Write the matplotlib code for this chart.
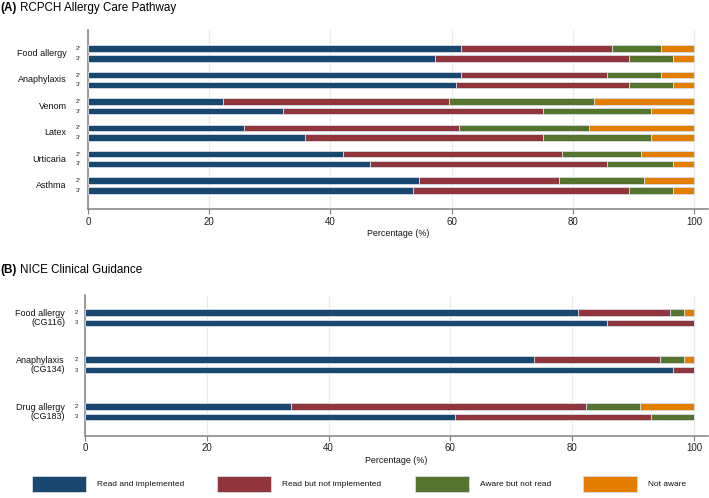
import numpy as np
import matplotlib
matplotlib.use("Agg")
import matplotlib.pyplot as plt
from matplotlib.patches import Rectangle

plt.rcParams['font.family'] = ['Liberation Sans', 'DejaVu Sans']

series = ["Read and implemented", "Read but not implemented", "Aware but not read", "Not aware"]
colors = ["#1a476f", "#90353b", "#55752f", "#e37e00"]

# Panel A: RCPCH Allergy Care Pathway (2° and 3° care)
cats_a = ["Food allergy", "Anaphylaxis", "Venom", "Latex", "Urticaria", "Asthma"]
a2_read_impl = [61.6, 61.6, 22.3, 25.7, 42.0, 54.6]
a2_read_not = [24.8, 24.0, 37.2, 35.5, 36.2, 23.1]
a2_aware = [8.1, 8.9, 24.0, 21.4, 13.0, 14.1]
a2_not_aware = [5.5, 5.5, 16.5, 17.4, 8.8, 8.2]
a3_read_impl = [57.2, 60.7, 32.2, 35.8, 46.5, 53.6]
a3_read_not = [32.1, 28.6, 42.8, 39.2, 39.2, 35.7]
a3_aware = [7.2, 7.2, 17.9, 17.9, 10.8, 7.2]
a3_not_aware = [3.5, 3.5, 7.1, 7.1, 3.5, 3.5]

# Panel B: NICE Clinical Guidance
cats_b = ["Food allergy\n(CG116)", "Anaphylaxis\n(CG134)", "Drug allergy\n(CG183)"]
b2_read_impl = [81.0, 73.8, 33.9]
b2_read_not = [15.0, 20.7, 48.3]
b2_aware = [2.4, 3.9, 9.0]
b2_not_aware = [1.6, 1.6, 8.8]
b3_read_impl = [85.7, 96.5, 60.7]
b3_read_not = [14.3, 3.5, 32.2]
b3_aware = [0.0, 0.0, 7.1]
b3_not_aware = [0.0, 0.0, 0.0]

xticks = [0, 20, 40, 60, 80, 100]

W, H = 709, 498
fig = plt.figure(figsize=(W / 100, H / 100), dpi=100)

def px_axes(left, top, right, bottom):
    return fig.add_axes([left / W, 1 - bottom / H, (right - left) / W, (bottom - top) / H])

def draw_panel(ax, cats, s2, s3, sub_labels, gap, within, height, pad_top, pad_bot, label_off):
    n = len(cats)
    centers = np.arange(n) * gap
    y2 = centers
    y3 = centers + within
    for ys, ser in ((y2, s2), (y3, s3)):
        left = np.zeros(n)
        for vals, c in zip(ser, colors):
            vals = np.array(vals)
            ax.barh(ys, vals, left=left, height=height, color=c,
                    edgecolor="#d5dde6", linewidth=0.6, zorder=3)
            left += vals
    ax.set_ylim(y3[-1] + pad_bot, y2[0] - pad_top)
    ax.set_xlim(0, 102.3)
    ax.set_xticks(xticks)
    ax.set_xticklabels([str(t) for t in xticks], fontsize=7, color="#222222")
    ax.tick_params(axis='x', length=3.5, width=0.8, color="#7f7f7f", pad=2)
    ax.set_yticks([])
    for sp in ("top", "right"):
        ax.spines[sp].set_visible(False)
    for sp in ("left", "bottom"):
        ax.spines[sp].set_color("#808080")
        ax.spines[sp].set_linewidth(1.1)
    ax.grid(axis='x', color="#ebebeb", linewidth=0.8, zorder=0)
    ax.set_axisbelow(True)
    tr = matplotlib.transforms.blended_transform_factory(ax.transAxes, ax.transData)
    axw = ax.get_position().width * W
    for i, cat in enumerate(cats):
        ax.text(-label_off / axw, (y2[i] + y3[i]) / 2, cat, transform=tr, ha='right',
                va='center', fontsize=6.5, color="#111111", linespacing=0.95)
        ax.text(-9 / axw, y2[i], sub_labels[0], transform=tr, ha='center', va='center',
                fontsize=4.2, color="#222222")
        ax.text(-9 / axw, y3[i], sub_labels[1], transform=tr, ha='center', va='center',
                fontsize=4.2, color="#222222")
    ax.set_xlabel("Percentage (%)", fontsize=6.4, color="#111111", labelpad=2)

# Panel A
axA = px_axes(88, 30, 708, 209)
sA2 = [a2_read_impl, a2_read_not, a2_aware, a2_not_aware]
sA3 = [a3_read_impl, a3_read_not, a3_aware, a3_not_aware]
draw_panel(axA, cats_a, sA2, sA3, ["2°", "3°"], 26.3, 9.7, 6.6, 18.7, 18.7, 21.5)

# Panel B
axB = px_axes(85, 295, 708, 435.7)
sB2 = [b2_read_impl, b2_read_not, b2_aware, b2_not_aware]
sB3 = [b3_read_impl, b3_read_not, b3_aware, b3_not_aware]
draw_panel(axB, cats_b, sB2, sB3, ["2", "3"], 47.0, 10.3, 6.8, 17.7, 18.7, 20)

# Titles
fig.text(0 / W, 1 - 7.5 / H, "(A)", fontsize=8.4, fontweight='bold', va='center', ha='left')
fig.text(19.5 / W, 1 - 7.5 / H, "RCPCH Allergy Care Pathway", fontsize=8.4, va='center', ha='left')
fig.text(0 / W, 1 - 270 / H, "(B)", fontsize=8.4, fontweight='bold', va='center', ha='left')
fig.text(19.5 / W, 1 - 270 / H, "NICE Clinical Guidance", fontsize=8.4, va='center', ha='left')

# Legend
patch_x = [31.7, 216.7, 415, 582.7]
for name, c, px in zip(series, colors, patch_x):
    fig.patches.append(Rectangle((px / W, 1 - 492 / H), 54 / W, 16 / H,
                                 transform=fig.transFigure, facecolor=c,
                                 edgecolor="#d5dde6", linewidth=0.6))
    fig.text((px + 65.5) / W, 1 - 484 / H, name, fontsize=6.0, va='center', ha='left',
             color="#111111")

fig.savefig("out.png", dpi=100, facecolor="white")
